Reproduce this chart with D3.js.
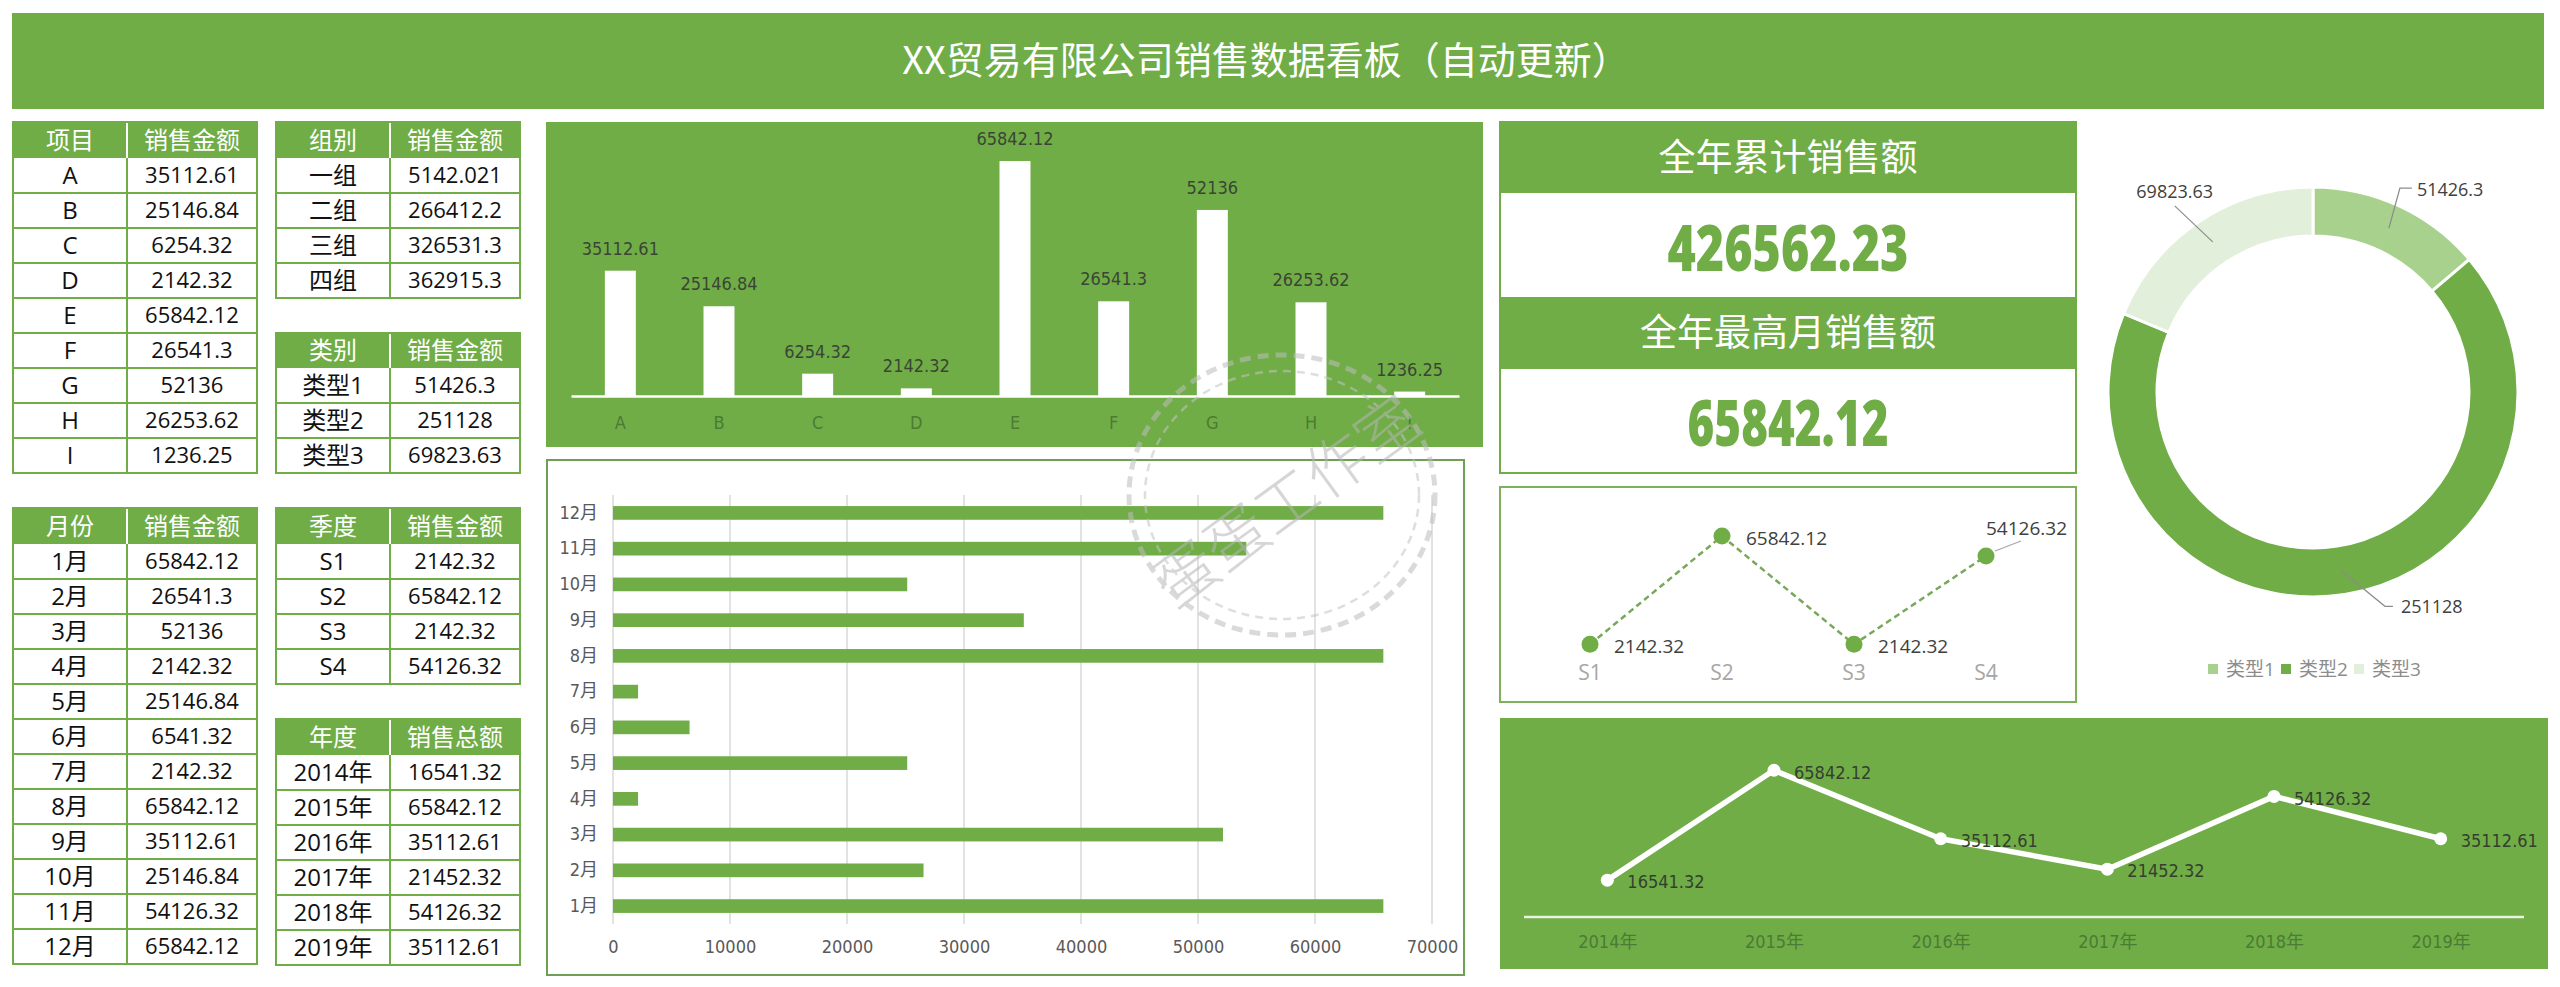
<!DOCTYPE html>
<html><head><meta charset="utf-8">
<script src="https://cdn.jsdelivr.net/npm/d3@7"></script>
<style>html,body{margin:0;padding:0;background:#fff;overflow:hidden}svg{display:block}</style>
</head><body>
<svg id="c" width="2560" height="987"></svg>
<script>
// ---------------- data ----------------
const title = "XX贸易有限公司销售数据看板（自动更新）";
const items = ["A","B","C","D","E","F","G","H","I"];
const itemValues = [35112.61, 25146.84, 6254.32, 2142.32, 65842.12, 26541.3, 52136, 26253.62, 1236.25];
const groups = ["一组","二组","三组","四组"];
const groupValues = [5142.021, 266412.2, 326531.3, 362915.3];
const types = ["类型1","类型2","类型3"];
const typeValues = [51426.3, 251128, 69823.63];
const months = ["1月","2月","3月","4月","5月","6月","7月","8月","9月","10月","11月","12月"];
const monthValues = [65842.12, 26541.3, 52136, 2142.32, 25146.84, 6541.32, 2142.32, 65842.12, 35112.61, 25146.84, 54126.32, 65842.12];
const quarters = ["S1","S2","S3","S4"];
const quarterValues = [2142.32, 65842.12, 2142.32, 54126.32];
const years = ["2014年","2015年","2016年","2017年","2018年","2019年"];
const yearValues = [16541.32, 65842.12, 35112.61, 21452.32, 54126.32, 35112.61];
const kpiTitles = ["全年累计销售额","全年最高月销售额"];
const kpiValues = ["426562.23","65842.12"];
const xTicks = [0,10000,20000,30000,40000,50000,60000,70000];
const watermark = "蛋蛋工作室";

// ---------------- style ----------------
const GREEN = "#70AD47";
const LIGHT = "#A9D18E";
const PALE = "#E2EFDA";
const typeColors = [LIGHT, GREEN, PALE];
const FT = '"Open Sans","Noto Sans CJK SC",sans-serif';
const FN = '"Liberation Sans Narrow","Arial Narrow","DejaVu Sans Condensed","Open Sans","Noto Sans CJK SC",sans-serif';
const FC = '"Noto Sans CJK SC","Noto Sans",sans-serif';

const svg = d3.select("#c");
svg.append("rect").attr("width",2560).attr("height",987).attr("fill","#fff");

// ---------------- banner ----------------
svg.append("rect").attr("x",12).attr("y",13).attr("width",2532).attr("height",96).attr("fill",GREEN);
svg.append("text").attr("x",1266).attr("y",61).attr("dy","0.35em").attr("text-anchor","middle")
  .attr("fill","#fff").attr("font-family",FC).attr("font-size",38).text(title);

// ---------------- tables ----------------
function table(x0,x1,x2,y0,hh,rh,heads,labels,values){
  const g = svg.append("g");
  const y1 = y0+hh, y2 = y1+labels.length*rh;
  const ry = d3.scaleBand().domain(labels).range([y1,y2]);
  g.append("rect").attr("x",x0).attr("y",y0).attr("width",x2-x0).attr("height",hh).attr("fill",GREEN);
  g.append("line").attr("x1",x1).attr("x2",x1).attr("y1",y0+1).attr("y2",y1).attr("stroke","#fff").attr("stroke-width",2);
  g.selectAll("line.r").data(labels.slice(1)).join("line").attr("class","r")
    .attr("x1",x0).attr("x2",x2).attr("y1",d=>ry(d)).attr("y2",d=>ry(d))
    .attr("stroke",GREEN).attr("stroke-width",2);
  g.append("line").attr("x1",x1).attr("x2",x1).attr("y1",y1).attr("y2",y2).attr("stroke",GREEN).attr("stroke-width",2);
  g.append("rect").attr("x",x0).attr("y",y0).attr("width",x2-x0).attr("height",y2-y0)
    .attr("fill","none").attr("stroke",GREEN).attr("stroke-width",2);
  g.selectAll("text.h").data(heads).join("text").attr("class","h")
    .attr("x",(d,i)=>i===0?(x0+x1)/2:(x1+x2)/2).attr("y",y0+hh/2).attr("dy","0.36em")
    .attr("text-anchor","middle").attr("fill","#fff").attr("font-family",FT).attr("font-size",24).text(d=>d);
  g.selectAll("text.l").data(labels).join("text").attr("class","l")
    .attr("x",(x0+x1)/2).attr("y",d=>ry(d)+ry.bandwidth()/2).attr("dy","0.36em")
    .attr("text-anchor","middle").attr("fill","#111").attr("font-family",FT).attr("font-size",24).text(d=>d);
  g.selectAll("text.v").data(values).join("text").attr("class","v")
    .attr("x",(x1+x2)/2).attr("y",(d,i)=>ry(labels[i])+ry.bandwidth()/2).attr("dy","0.36em")
    .attr("text-anchor","middle").attr("fill","#111").attr("font-family",FT).attr("font-size",22).text(d=>String(d));
}
table(13,127,257,122,36,35,["项目","销售金额"],items,itemValues);
table(276,390,520,122,36,35,["组别","销售金额"],groups,groupValues);
table(276,390,520,333,35,35,["类别","销售金额"],types,typeValues);
table(13,127,257,508,36,35,["月份","销售金额"],months,monthValues);
table(276,390,520,508,36,35,["季度","销售金额"],quarters,quarterValues);
table(276,390,520,719,36,35,["年度","销售总额"],years,yearValues);

// ---------------- column chart (items) ----------------
{
  const g = svg.append("g");
  g.append("rect").attr("x",546).attr("y",122).attr("width",937).attr("height",325).attr("fill",GREEN);
  const x = d3.scaleBand().domain(items).range([571,1459]).paddingInner(0.686).paddingOuter(0.343);
  const y = d3.scaleLinear().domain([0,70000]).range([396,146.2]);
  g.selectAll("rect.b").data(itemValues).join("rect").attr("class","b")
    .attr("x",(d,i)=>x(items[i])).attr("width",x.bandwidth())
    .attr("y",d=>y(d)).attr("height",d=>y(0)-y(d)).attr("fill","#fff");
  const ax = g.append("g").attr("transform","translate(0,396)").call(d3.axisBottom(x).tickSize(0).tickPadding(20));
  ax.select(".domain").attr("stroke","#fff").attr("stroke-width",2.5);
  ax.selectAll("text").attr("font-family",FN).attr("font-size",18).attr("fill","#4b7b34");
  g.selectAll("text.vl").data(itemValues).join("text").attr("class","vl")
    .attr("x",(d,i)=>x(items[i])+x.bandwidth()/2).attr("y",d=>y(d)-16)
    .attr("text-anchor","middle").attr("font-family",FN).attr("font-size",18).attr("fill","#3b4535").text(d=>String(d));
}

// ---------------- bar chart (months) ----------------
{
  const g = svg.append("g");
  g.append("rect").attr("x",547).attr("y",460).attr("width",917).attr("height",515)
    .attr("fill","#fff").attr("stroke","#6f9f52").attr("stroke-width",2);
  const x = d3.scaleLinear().domain([0,70000]).range([613,1432]);
  const y = d3.scaleBand().domain(months.slice().reverse()).range([495,924]).paddingInner(0.617).paddingOuter(0.31);
  g.selectAll("line.gr").data(xTicks).join("line").attr("class","gr")
    .attr("x1",d=>x(d)).attr("x2",d=>x(d)).attr("y1",495).attr("y2",924)
    .attr("stroke","#d9d9d9").attr("stroke-width",1.5);
  g.selectAll("rect.b").data(monthValues).join("rect").attr("class","b")
    .attr("x",x(0)).attr("y",(d,i)=>y(months[i])).attr("height",y.bandwidth())
    .attr("width",d=>x(d)-x(0)).attr("fill",GREEN);
  const ax = g.append("g").attr("transform","translate(0,924)")
    .call(d3.axisBottom(x).tickValues(xTicks).tickSize(0).tickPadding(16).tickFormat(d3.format("d")));
  ax.select(".domain").remove();
  ax.selectAll("text").attr("font-family",FN).attr("font-size",18).attr("fill","#595959");
  const ay = g.append("g").attr("transform","translate(613,0)").call(d3.axisLeft(y).tickSize(0).tickPadding(15));
  ay.select(".domain").remove();
  ay.selectAll("text").attr("font-family",FN).attr("font-size",18).attr("fill","#595959");
}

// ---------------- KPI panel ----------------
{
  const g = svg.append("g");
  const bands = [[122,193],[193,297],[297,369],[369,473]];
  bands.forEach((b,i)=>{
    g.append("rect").attr("x",1500).attr("y",b[0]).attr("width",576).attr("height",b[1]-b[0])
      .attr("fill",i%2===0?GREEN:"#fff");
  });
  g.append("rect").attr("x",1500).attr("y",122).attr("width",576).attr("height",351)
    .attr("fill","none").attr("stroke",GREEN).attr("stroke-width",2);
  g.selectAll("text.kt").data(kpiTitles).join("text").attr("class","kt")
    .attr("x",1788).attr("y",(d,i)=>i===0?158:333).attr("dy","0.35em").attr("text-anchor","middle")
    .attr("fill","#fff").attr("font-family",FC).attr("font-size",37).text(d=>d);
  const kw = [241, 201];
  g.selectAll("text.kv").data(kpiValues).join("text").attr("class","kv")
    .attr("x",1788).attr("y",(d,i)=>i===0?248:423).attr("dy","0.36em").attr("text-anchor","middle")
    .attr("textLength",(d,i)=>kw[i]).attr("lengthAdjust","spacingAndGlyphs")
    .attr("fill",GREEN).attr("font-family",FT).attr("font-weight","800").attr("font-size",63).text(d=>d);
}

// ---------------- quarter line ----------------
{
  const g = svg.append("g");
  g.append("rect").attr("x",1500).attr("y",487).attr("width",576).attr("height",215)
    .attr("fill","#fff").attr("stroke","#7fb05c").attr("stroke-width",2);
  const x = d3.scalePoint().domain(quarters).range([1590,1986]);
  const y = d3.scaleLinear().domain([0,70000]).range([648,529]);
  const line = d3.line().x((d,i)=>x(quarters[i])).y(d=>y(d));
  g.append("path").datum(quarterValues).attr("d",line).attr("fill","none")
    .attr("stroke","#78a85a").attr("stroke-width",2.5).attr("stroke-dasharray","6,4");
  g.selectAll("circle").data(quarterValues).join("circle")
    .attr("cx",(d,i)=>x(quarters[i])).attr("cy",d=>y(d)).attr("r",8.5).attr("fill",GREEN);
  g.selectAll("text.q").data(quarters).join("text").attr("class","q")
    .attr("x",d=>x(d)).attr("y",673).attr("dy","0.35em").attr("text-anchor","middle")
    .attr("font-family",FT).attr("font-size",21).attr("fill","#a6a6a6").text(d=>d);
  const last = quarterValues.length-1;
  g.selectAll("text.ql").data(quarterValues).join("text").attr("class","ql")
    .attr("x",(d,i)=>x(quarters[i])+(i===last?0:24))
    .attr("y",(d,i)=>i===last?y(d)-28:y(d)+2).attr("dy","0.35em")
    .attr("font-family",FT).attr("font-size",19).attr("fill","#404040").text(d=>String(d));
  const lx = x(quarters[last]), ly = y(quarterValues[last]);
  g.append("line").attr("x1",lx+9).attr("y1",ly-5).attr("x2",lx+35).attr("y2",ly-15)
    .attr("stroke","#a6a6a6").attr("stroke-width",1.2);
}

// ---------------- donut ----------------
{
  const cx = 2313, cy = 392, ro = 205, ri = 156, rm = (ro+ri)/2;
  const pie = d3.pie().sort(null).value(d=>d);
  const arcs = pie(typeValues);
  const arc = d3.arc().innerRadius(ri).outerRadius(ro);
  const g = svg.append("g").attr("transform",`translate(${cx},${cy})`);
  g.selectAll("path").data(arcs).join("path").attr("d",arc)
    .attr("fill",(d,i)=>typeColors[i]).attr("stroke","#fff").attr("stroke-width",3);
  const lay = [
    {dx:11, dy:-40, h:12, anchor:"start", tx:5, ty:1},
    {dx:44, dy:36, h:8, anchor:"start", tx:8, ty:0},
    {dx:-38, dy:-36, h:0, anchor:"middle", tx:0, ty:-14}
  ];
  const lg = svg.append("g");
  arcs.forEach((a,i)=>{
    const m = (a.startAngle+a.endAngle)/2;
    const px = cx + rm*Math.sin(m), py = cy - rm*Math.cos(m);
    const L = lay[i];
    const ex = px+L.dx, ey = py+L.dy;
    lg.append("polyline").attr("points",`${px},${py} ${ex},${ey} ${ex+L.h},${ey}`)
      .attr("fill","none").attr("stroke","#8c8c8c").attr("stroke-width",1.2);
    lg.append("text").attr("x",ex+L.h+L.tx).attr("y",ey+L.ty).attr("dy","0.35em").attr("text-anchor",L.anchor)
      .attr("font-family",FT).attr("font-size",18).attr("fill","#404040").text(String(typeValues[i]));
  });
  // legend
  const leg = svg.append("g");
  const lx = d3.scalePoint().domain(types).range([2213,2359]);
  types.forEach((t,i)=>{
    leg.append("rect").attr("x",lx(t)-5).attr("y",669-5).attr("width",10).attr("height",10).attr("fill",typeColors[i]);
    leg.append("text").attr("x",lx(t)+13).attr("y",669).attr("dy","0.35em")
      .attr("font-family",FT).attr("font-size",19).attr("fill","#8c8c8c").text(t);
  });
}

// ---------------- year line ----------------
{
  const g = svg.append("g");
  g.append("rect").attr("x",1500).attr("y",718).attr("width",1048).attr("height",251).attr("fill",GREEN);
  const x = d3.scalePoint().domain(years).range([1524,2524]).padding(0.5);
  const y = d3.scaleLinear().domain([0,70000]).range([917,761]);
  const ax = g.append("g").attr("transform","translate(0,917)").call(d3.axisBottom(x).tickSize(0).tickPadding(18));
  ax.select(".domain").attr("stroke","#e8f2e0").attr("stroke-width",2.5).attr("d","M1524,0H2524");
  ax.selectAll("text").attr("font-family",FN).attr("font-size",18).attr("fill","#4b7b34");
  const line = d3.line().x((d,i)=>x(years[i])).y(d=>y(d));
  g.append("path").datum(yearValues).attr("d",line).attr("fill","none")
    .attr("stroke","#fff").attr("stroke-width",5.5).attr("stroke-linejoin","round");
  g.selectAll("circle").data(yearValues).join("circle")
    .attr("cx",(d,i)=>x(years[i])).attr("cy",d=>y(d)).attr("r",6.5).attr("fill","#fff");
  g.selectAll("text.yl").data(yearValues).join("text").attr("class","yl")
    .attr("x",(d,i)=>x(years[i])+20).attr("y",d=>y(d)+2).attr("dy","0.35em")
    .attr("font-family",FN).attr("font-size",18).attr("fill","#34402e").text(d=>String(d));
}

// ---------------- watermark ----------------
{
  const g = svg.append("g").attr("opacity",0.55).style("pointer-events","none");
  g.append("ellipse").attr("cx",1282).attr("cy",495).attr("rx",153).attr("ry",140)
    .attr("fill","none").attr("stroke","#bdbdbd").attr("stroke-width",5).attr("stroke-dasharray","11,7");
  g.append("ellipse").attr("cx",1282).attr("cy",495).attr("rx",137).attr("ry",124)
    .attr("fill","none").attr("stroke","#c4c4c4").attr("stroke-width",2.5).attr("stroke-dasharray","8,6");
  g.append("text").attr("transform","translate(1287,502) rotate(-36)").attr("text-anchor","middle").attr("dy","0.35em")
    .attr("font-family",FC).attr("font-size",62).attr("font-weight",300).attr("fill","#b5b5b5").text(watermark);
}
</script>
</body></html>
